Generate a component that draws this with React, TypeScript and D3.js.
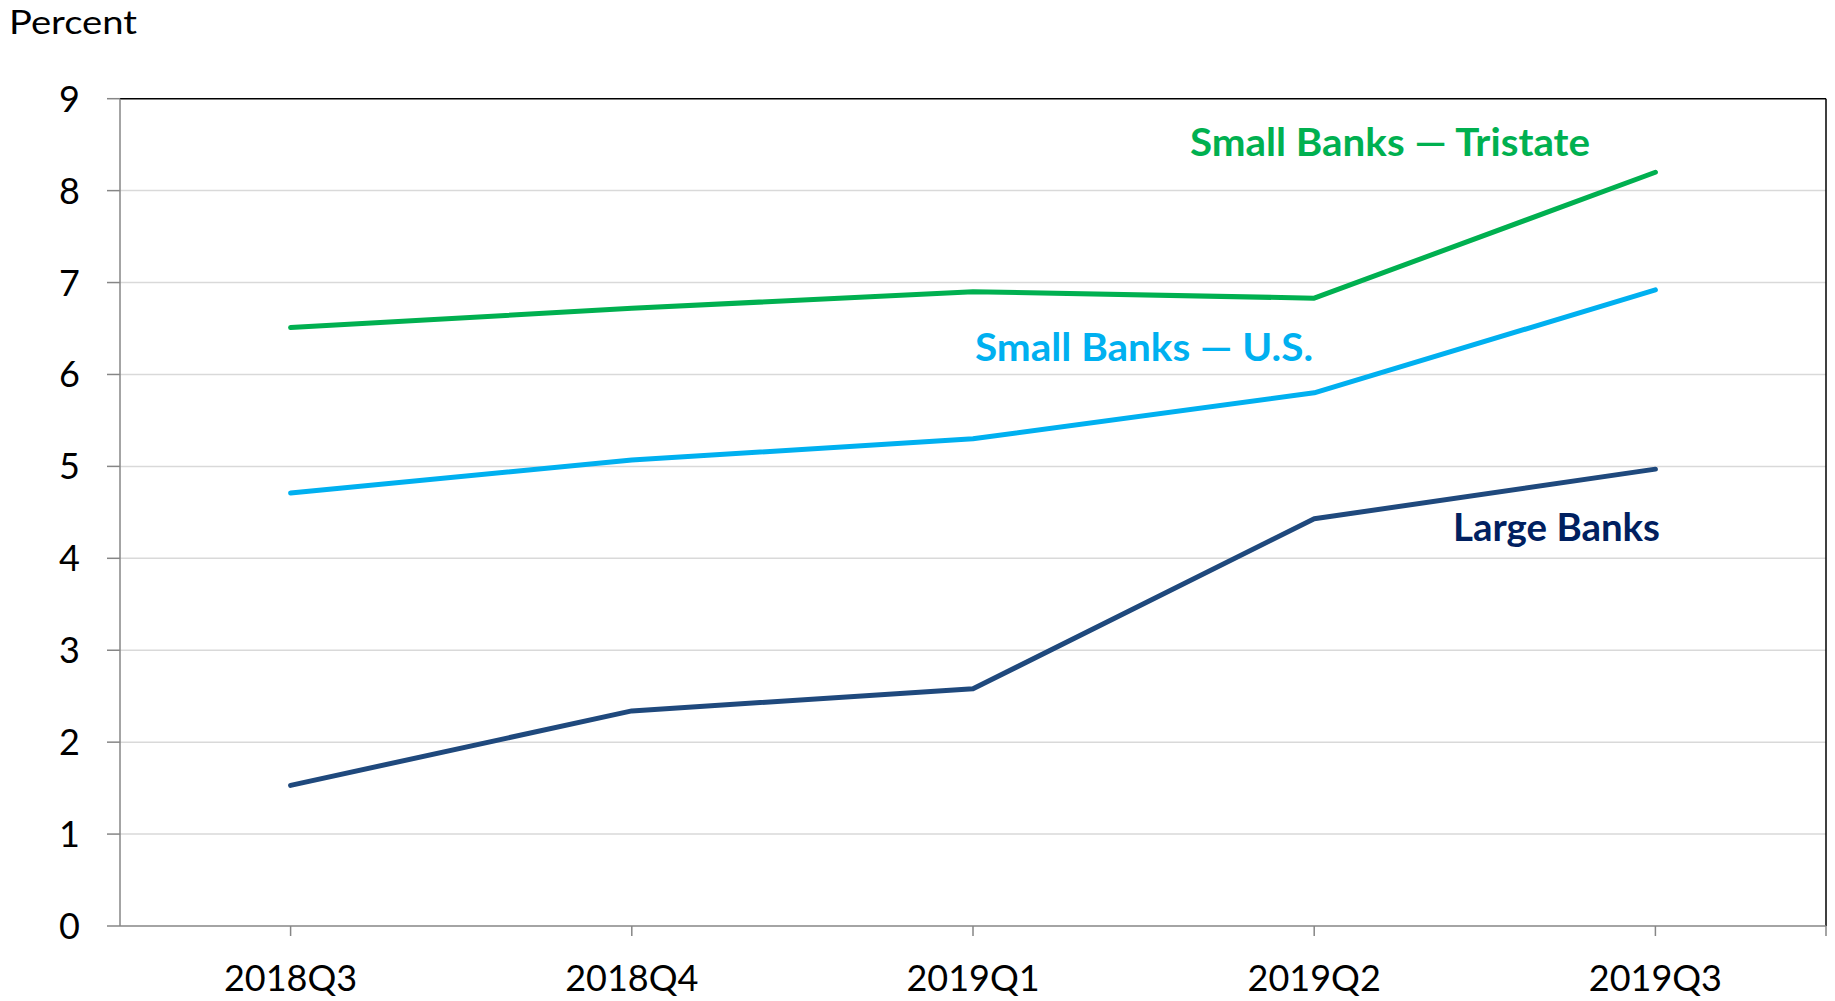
import React from "react";
import * as d3 from "d3";

const categories = ["2018Q3", "2018Q4", "2019Q1", "2019Q2", "2019Q3"];
const tristate = [6.51, 6.72, 6.9, 6.83, 8.2];
const usSmall = [4.71, 5.07, 5.3, 5.8, 6.92];
const large = [1.53, 2.34, 2.58, 4.43, 4.97];
const yTicks = [0, 1, 2, 3, 4, 5, 6, 7, 8, 9];

const W = 1835;
const H = 1001;
const left = 120;
const right = 1826;
const top = 98.7;
const bottom = 926;
const FONT = "Lato, 'Open Sans', sans-serif";

export default function App() {
  const x = d3.scaleBand<string>().domain(categories).range([left, right]).padding(0);
  const y = d3.scaleLinear().domain([0, 9]).range([bottom, top]);
  const cx = (c: string) => (x(c) as number) + x.bandwidth() / 2;
  const line = d3
    .line<number>()
    .x((_, i) => cx(categories[i]))
    .y((d) => y(d));

  const series = [
    { data: tristate, color: "#00b050" },
    { data: usSmall, color: "#00b0f0" },
    { data: large, color: "#1f497d" },
  ];

  return (
    <svg width={W} height={H} style={{ position: "absolute", left: 0, top: 0 }}>
      <rect x={0} y={0} width={W} height={H} fill="#fff" />
      {yTicks.filter((t) => t > 0 && t < 9).map((t) => (
        <line key={t} x1={left} x2={right} y1={y(t)} y2={y(t)} stroke="#d9d9d9" strokeWidth={1.5} />
      ))}
      <line x1={left} x2={right} y1={top} y2={top} stroke="#000" strokeWidth={1.5} />
      <line x1={right} x2={right} y1={top} y2={bottom} stroke="#000" strokeWidth={1.5} />
      <line x1={left} x2={left} y1={top} y2={bottom} stroke="#868686" strokeWidth={1.5} />
      <line x1={left} x2={right} y1={bottom} y2={bottom} stroke="#868686" strokeWidth={1.5} />
      {yTicks.map((t) => (
        <g key={t}>
          <line x1={107} x2={left} y1={y(t)} y2={y(t)} stroke="#868686" strokeWidth={1.5} />
          <text x={80} y={y(t)} dy="0.36em" textAnchor="end" fontFamily={FONT} fontSize={36} fill="#000">
            {t}
          </text>
        </g>
      ))}
      {categories.map((c) => (
        <g key={c}>
          <line x1={cx(c)} x2={cx(c)} y1={bottom} y2={bottom + 10} stroke="#868686" strokeWidth={1.5} />
          <text x={cx(c)} y={991} textAnchor="middle" fontFamily={FONT} fontSize={36} fill="#000">
            {c}
          </text>
        </g>
      ))}
      <line x1={right} x2={right} y1={bottom} y2={bottom + 10} stroke="#868686" strokeWidth={1.5} />
      {series.map((s, i) => (
        <path key={i} d={line(s.data) || ""} fill="none" stroke={s.color} strokeWidth={5} strokeLinecap="round" strokeLinejoin="round" />
      ))}
      <text x={9} y={34} fontFamily={FONT} fontSize={33} fill="#000" textLength={128} lengthAdjust="spacingAndGlyphs">Percent</text>
      <text x={1190} y={156} fontFamily={FONT} fontWeight="bold" fontSize={39} fill="#00b050" textLength={400} lengthAdjust="spacingAndGlyphs">Small Banks — Tristate</text>
      <text x={975} y={361} fontFamily={FONT} fontWeight="bold" fontSize={39} fill="#00b0f0" textLength={338} lengthAdjust="spacingAndGlyphs">Small Banks — U.S.</text>
      <text x={1453} y={541} fontFamily={FONT} fontWeight="bold" fontSize={39} fill="#002060" textLength={207} lengthAdjust="spacingAndGlyphs">Large Banks</text>
    </svg>
  );
}
